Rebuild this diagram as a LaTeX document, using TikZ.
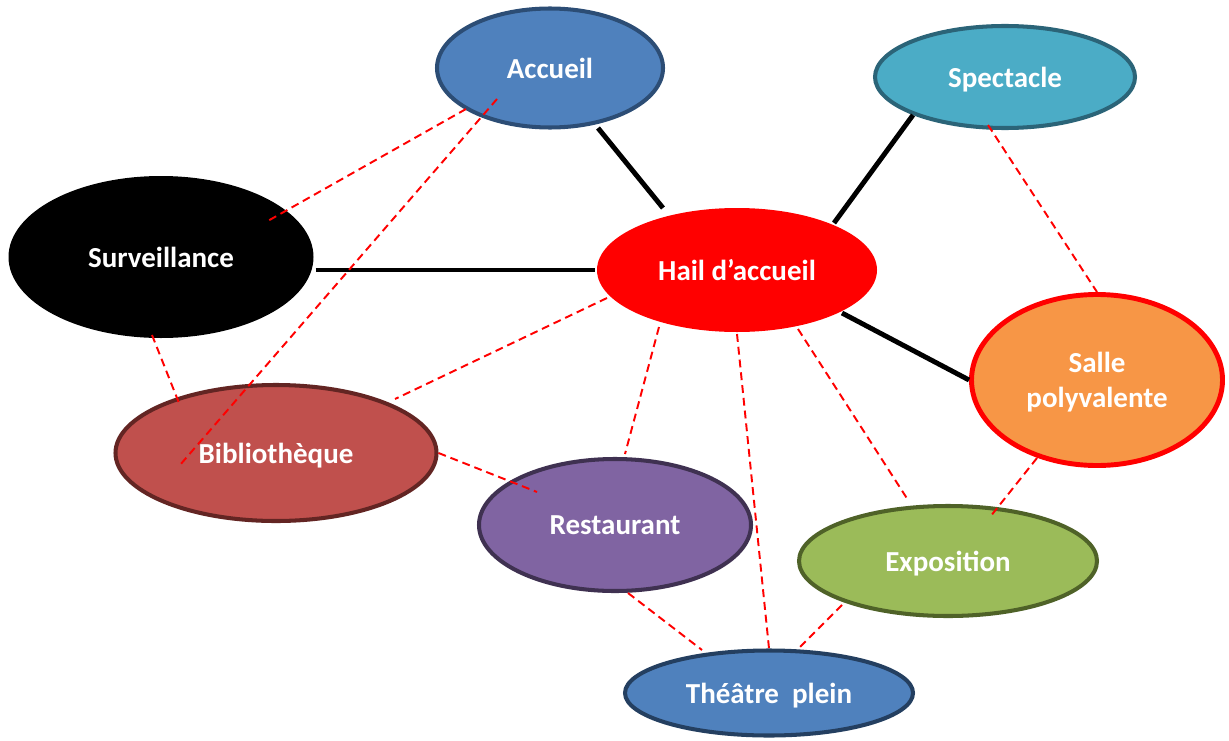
\documentclass[tikz,border=0pt]{standalone}
\usepackage{fontspec}
\setmainfont{Carlito}
\usepackage{tikz}
\usetikzlibrary{shapes.geometric, calc}

\definecolor{accFill}{HTML}{4F81BD}
\definecolor{accLine}{HTML}{2C4D75}
\definecolor{specFill}{HTML}{4BACC6}
\definecolor{specLine}{HTML}{2B6478}
\definecolor{salleFill}{HTML}{F79646}
\definecolor{bibFill}{HTML}{C0504D}
\definecolor{bibLine}{HTML}{632523}
\definecolor{restFill}{HTML}{8064A2}
\definecolor{restLine}{HTML}{3F3151}
\definecolor{expoFill}{HTML}{9BBB59}
\definecolor{expoLine}{HTML}{4F6228}
\definecolor{theatLine}{HTML}{243F60}

\begin{document}
\begin{tikzpicture}[
    x=0.02cm, y=-0.02cm,
    room/.style={ellipse, inner sep=0pt, line width=2.3pt, text=white, align=center,
        text depth=0pt, font=\bfseries\fontsize{16.5}{20}\selectfont},
    link/.style={line width=2.8pt, black},
    near/.style={red, line width=1.1pt, dash pattern=on 4.5pt off 2.8pt}
]
\path[fill=white, use as bounding box] (0,0) rectangle (1229,740);

\node[room, fill=accFill, draw=accLine, minimum width=226*0.02cm, minimum height=119*0.02cm] (acc) at (550,68) {Accueil};
\node[room, fill=specFill, draw=specLine, minimum width=260*0.02cm, minimum height=102*0.02cm] (spec) at (1005,77) {Spectacle};
\node[room, fill=black, minimum width=305*0.02cm, minimum height=162*0.02cm] (surv) at (161,257) {Surveillance};
\node[room, fill=red, minimum width=280*0.02cm, minimum height=124*0.02cm] (hall) at (737,270) {Hail d’accueil};
\node[room, fill=salleFill, draw=red, line width=2.8pt, minimum width=251*0.02cm, minimum height=171*0.02cm] (salle) at (1097,380) {Salle\\polyvalente};
\node[room, fill=bibFill, draw=bibLine, minimum width=321*0.02cm, minimum height=136*0.02cm] (bib) at (276,453) {Bibliothèque};
\node[room, fill=restFill, draw=restLine, minimum width=272*0.02cm, minimum height=132*0.02cm] (rest) at (615,525) {Restaurant};
\node[room, fill=expoFill, draw=expoLine, minimum width=298*0.02cm, minimum height=110*0.02cm] (expo) at (948,561) {Exposition};
\node[room, fill=accFill, draw=theatLine, minimum width=288*0.02cm, minimum height=85*0.02cm] (theat) at (769,693) {Théâtre\ \ plein};

\draw[link] ($(acc)+(48,60)$) -- ($(hall)+(-74,-62)$);
\draw[link] ($(spec)+(-92,38)$) -- ($(hall)+(97,-47)$);
\draw[link] (surv.east |- hall.west) -- (hall.west);
\draw[link] ($(hall)+(105,43)$) -- (salle.west);

\draw[near] ($(acc)+(-84,41)$) -- ($(surv)+(105,-35)$);
\draw[near] ($(acc)+(-53,31)$) -- ($(bib)+(-96,12)$);
\draw[near] ($(spec)+(-17,48)$) -- (salle.north);
\draw[near] ($(surv)+(-9,78)$) -- ($(bib)+(-97,-50)$);
\draw[near] ($(hall)+(-130,28)$) -- ($(bib)+(119,-54)$);
\draw[near] ($(hall)+(-78,57)$) -- ($(rest)+(10,-71)$);
\draw[near] (hall.south) -- (theat.north);
\draw[near] ($(hall)+(61,59)$) -- ($(expo)+(-40,-61)$);
\draw[near] (bib.east) -- ($(rest)+(-78,-33)$);
\draw[near] ($(salle)+(-60,78)$) -- ($(expo)+(42,-44)$);
\draw[near] ($(rest)+(13,68)$) -- ($(theat)+(-67,-43)$);
\draw[near] ($(expo)+(-106,44)$) -- ($(theat)+(29,-44)$);

\end{tikzpicture}
\end{document}
